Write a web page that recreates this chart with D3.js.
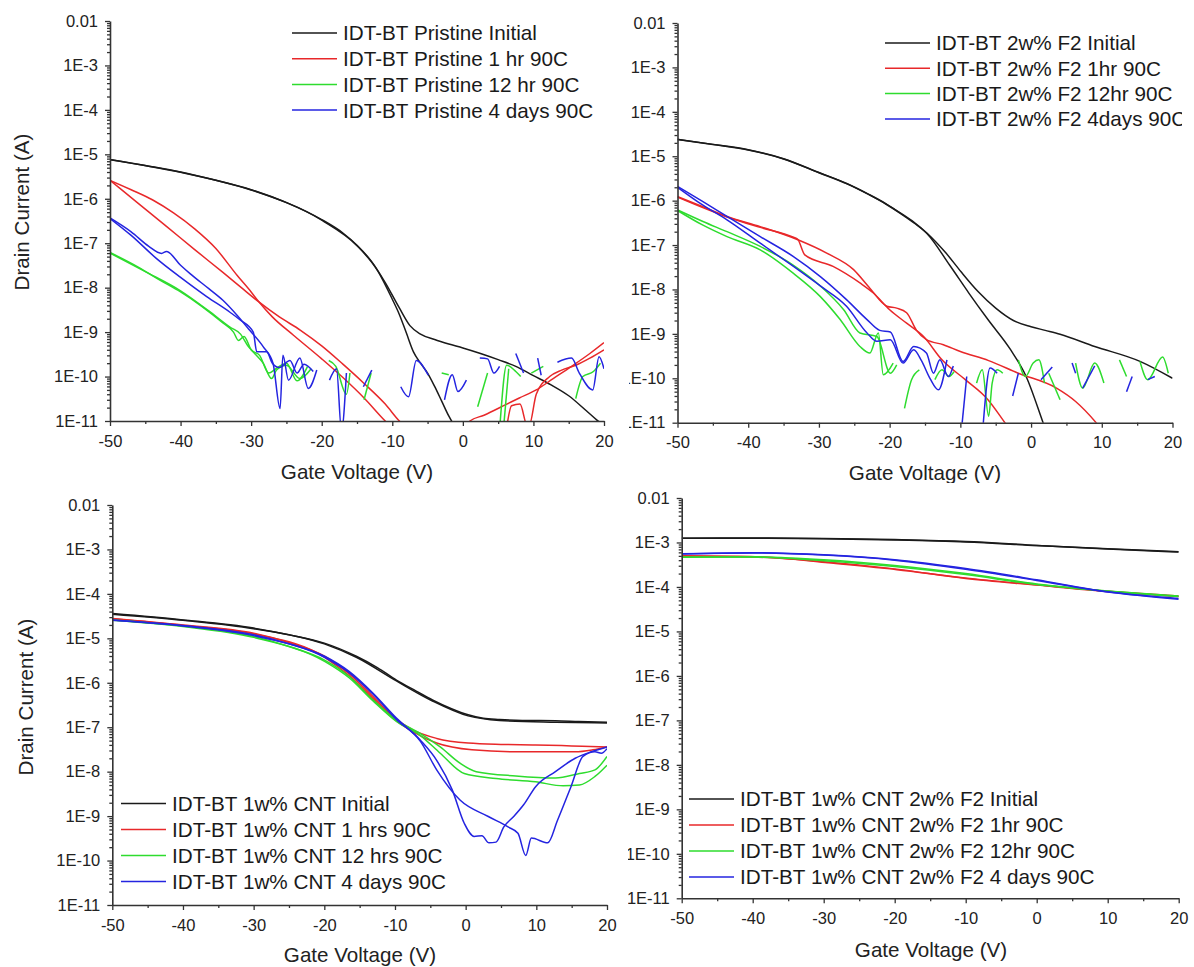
<!DOCTYPE html>
<html lang="en">
<head>
<meta charset="utf-8">
<title>IDT-BT transfer curves</title>
<script src="https://cdn.jsdelivr.net/npm/d3@7"></script>
<style>
  body { margin: 0; background: #fff; }
  svg { display: block; font-family: "Liberation Sans", Arial, sans-serif; }
  .axis text { font-size: 16.5px; fill: #222; font-family: "Liberation Sans", Arial, sans-serif; }
  .axis path, .axis line { stroke: #333; }
  .axis path { stroke-width: 1.6; }
  .axis line { stroke-width: 1.3; }
  .axis-title { font-size: 20.6px; fill: #222; }
  .legend text { font-size: 20.7px; fill: #1a1a1a; }
  .curve { fill: none; stroke-width: 1.5; stroke-linejoin: round; }
</style>
</head>
<body>
<svg id="chart" width="1194" height="967"></svg>
<script>
// axis ticks shared by all four panels
var X_TICKS = [-50, -40, -30, -20, -10, 0, 10, 20];
var X_MINOR = [-45, -35, -25, -15, -5, 5, 15];
var Y_TICKS = [1e-11, 1e-10, 1e-9, 1e-8, 1e-7, 1e-6, 1e-5, 1e-4, 1e-3, 1e-2];
var COLORS = ["#1a1a1a", "#e8282a", "#2edc2e", "#2424e0"];

// ---- top left: pristine film (each series = list of sweep segments, [Vg, Id])
var legend1 = ["IDT-BT Pristine Initial", "IDT-BT Pristine 1 hr 90C", "IDT-BT Pristine 12 hr 90C", "IDT-BT Pristine 4 days 90C"];
var pristineInitial = [
  [[-50,7.7e-6],[-45,5.6e-6],[-40,4.0e-6],[-35,2.6e-6],[-30,1.6e-6],[-25,8.2e-7],[-20,3.4e-7],[-17,1.7e-7],[-15,9e-8],[-13,4e-8],[-11,1.3e-8],[-9,3.5e-9],[-7.5,1.4e-9],[-6,9e-10],[-4,6.8e-10],[-2,5.4e-10],[0,4.4e-10],[2.5,3.3e-10],[5,2.4e-10],[7.5,1.7e-10],[10,1.05e-10],[12.5,6.5e-11],[15,3.7e-11],[17.5,1.7e-11],[19,1.05e-11],[20,8e-12]],
  [[-50,7.6e-6],[-40,3.95e-6],[-30,1.58e-6],[-20,3.3e-7],[-15,8.8e-8],[-12,2.3e-8],[-10,5.5e-9],[-9,2.5e-9],[-8,9.5e-10],[-7,3.6e-10],[-6,2e-10],[-5,1.2e-10],[-4,6e-11],[-3,2.8e-11],[-2,1.3e-11],[-1,7e-12]]
];
var pristine1h = [
  [[-50,2.6e-6],[-47,1.6e-6],[-44,9.5e-7],[-41,4.8e-7],[-38,2.1e-7],[-35,7.6e-8],[-32,1.9e-8],[-30,8e-9],[-29,5e-9],[-27,2.2e-9],[-24,8.5e-10],[-20,2.5e-10],[-17,9.5e-11],[-14,3.3e-11],[-11,1e-11],[-10,7e-12]],
  [[-50,2.6e-6],[-46,7.9e-7],[-42,2.4e-7],[-38,7.2e-8],[-34,2.2e-8],[-31,8.9e-9],[-29,4.9e-9],[-26,2.2e-9],[-23,1.1e-9],[-20,4.9e-10],[-17,1.9e-10],[-14,7e-11],[-11,2.4e-11],[-9,1e-11],[-8,7e-12]],
  [[0.5,8e-12],[1,1e-11],[3,1.35e-11],[6,2.3e-11],[8,3.3e-11],[10.4,5e-11],[12.8,9e-11],[15.4,1.7e-10],[18,3.3e-10],[20,5.8e-10]],
  [[6.2,7e-12],[6.9,2.2e-11],[8.1,2.4e-11],[9.1,8e-12],[9.4,8e-12],[10.4,4e-11],[12.3,1e-10],[14,1.4e-10],[16,1.8e-10],[18,2.6e-10],[20,4e-10]]
];
var pristine12h = [
  [[-50,6.2e-8],[-46,2.9e-8],[-43,1.5e-8],[-40,8e-9],[-37,3.8e-9],[-34,1.6e-9],[-32.5,1e-9],[-31.8,6.5e-10],[-31,8e-10],[-30,4e-10],[-28.8,3e-10],[-27.5,1.2e-10],[-26.5,1.5e-10],[-25,2e-10],[-23.5,8e-11],[-22,1.7e-10]],
  [[-50,6e-8],[-45,2.3e-8],[-40,8.5e-9],[-36,3e-9],[-33,1.3e-9],[-31.5,9e-10],[-30.5,5e-10],[-29.5,3.3e-10],[-28.3,2e-10],[-27.1,9e-11],[-26.4,1.4e-10],[-25,1.8e-10],[-23.1,9e-11],[-21.5,1.5e-10]],
  [[-19,2.3e-10],[-18,1.7e-10],[-16.5,4e-11],[-16,1.2e-10]],
  [[-14,3e-11],[-13,1.2e-10]],
  [[-3,1.2e-10],[-2,1.1e-10]],
  [[2.1,2.1e-11],[3.5,1.2e-10]],
  [[5.3,1e-11],[6.2,1.8e-10],[7.5,1.3e-10],[8.2,1e-10]],
  [[5.8,8e-12],[6.5,1.5e-10]],
  [[9.7,1.2e-10],[11.4,1.7e-10]],
  [[16,3.2e-11],[17,1e-10],[18.5,1.3e-10],[19.5,2e-10]]
];
var pristine4d = [
  [[-50,3.7e-7],[-47,1.8e-7],[-44.5,8.5e-8],[-42.7,5.9e-8],[-42,6.5e-8],[-40,3.2e-8],[-38.7,2.1e-8],[-36,9.5e-9],[-34,5.2e-9],[-32,2.4e-9],[-30.2,1.1e-9],[-28.3,4.7e-10],[-26.9,2e-10],[-25.9,1.9e-11],[-25.5,3e-10],[-24.7,8.3e-11],[-23.1,2.6e-10],[-21.9,5.4e-11],[-20.7,1.4e-10]],
  [[-50,3.6e-7],[-47,1.5e-7],[-43.4,4.5e-8],[-40,1.7e-8],[-36.3,6.3e-9],[-33,2.8e-9],[-31.6,1.9e-9],[-29.7,1e-9],[-29.2,3.6e-10],[-27.8,3.6e-10],[-27,2e-10],[-26,1.6e-10],[-24.5,2.3e-10],[-23.5,1.2e-10],[-22.5,1.9e-10],[-21.2,1.3e-10]],
  [[-18.9,8.3e-11],[-17.9,1.5e-10],[-17.2,6e-12],[-16.5,1.2e-10]],
  [[-14.1,5.9e-11],[-12.9,1.4e-10]],
  [[-8.8,5.9e-11],[-7.7,3.5e-11],[-6.6,2.3e-10],[-4.9,1.07e-10]],
  [[-2.6,3e-11],[-1.5,1.1e-10],[-0.7,4.6e-11],[0.5,8.3e-11]],
  [[2.4,2.6e-10],[3.5,2.5e-10],[4.4,1.2e-10],[5.2,1.7e-10]],
  [[7.5,3.3e-10],[8.6,1.2e-10]],
  [[10.6,2.6e-10],[11.1,1.07e-10]],
  [[13.4,2.1e-10],[15.4,2.6e-10],[16.5,1.2e-10],[18.4,5e-11],[19.3,2.8e-10],[20,1.5e-10]]
];

// ---- top right: 2 wt% F2
var legend2 = ["IDT-BT 2w% F2 Initial", "IDT-BT 2w% F2 1hr 90C", "IDT-BT 2w% F2 12hr 90C", "IDT-BT 2w% F2 4days 90C"];
var f2Initial = [
  [[-50,2.4e-5],[-45,1.85e-5],[-40,1.4e-5],[-35,8.8e-6],[-30,4.3e-6],[-26,2.4e-6],[-23,1.4e-6],[-20.5,8.5e-7],[-18.5,5.3e-7],[-16.5,3.2e-7],[-14.7,1.85e-7],[-12,6.5e-8],[-9.9,2.5e-8],[-7.5,9e-9],[-5,3.8e-9],[-2.5,2e-9],[0,1.45e-9],[2,1.2e-9],[4.1,9.8e-10],[9,5.2e-10],[15.4,2.4e-10],[20,1e-10]],
  [[-50,2.38e-5],[-45,1.84e-5],[-40,1.38e-5],[-35,8.7e-6],[-30,4.25e-6],[-26,2.38e-6],[-23,1.38e-6],[-20.5,8.3e-7],[-18.5,5.2e-7],[-16.5,3.1e-7],[-14.7,1.8e-7],[-11.5,3.5e-8],[-8.8,8.3e-9],[-6.1,2.1e-9],[-2.9,4.4e-10],[-0.7,1.1e-10],[1.7,1e-11],[2.2,6e-12]]
];
var f2_1h = [
  [[-50,1.23e-6],[-46.5,7.4e-7],[-43,4.4e-7],[-38.3,2.6e-7],[-32.9,1.3e-7],[-28.9,6.6e-8],[-25.1,2.8e-8],[-22.8,1.07e-8],[-20.4,4.2e-9],[-19,3.8e-9],[-17.6,3e-9],[-16.2,1.2e-9],[-14.8,7.4e-10],[-12.4,5.7e-10],[-10,4e-10],[-6,2.5e-10],[-1.8,1.3e-10],[3.6,6e-11],[6.3,3e-11],[9.2,1e-11],[10,7e-12]],
  [[-50,1.2e-6],[-43,4.3e-7],[-38.3,2.5e-7],[-33.6,1.5e-7],[-33,1.35e-7],[-32,6e-8],[-28,3.3e-8],[-24.2,1.4e-8],[-22.3,8.3e-9],[-20,3.5e-9],[-17.6,1.74e-9],[-15.2,8.7e-10],[-12.6,2.6e-10],[-9.3,9.3e-11],[-6.1,3.3e-11],[-3.7,1e-11],[-3,7e-12]]
];
var f2_12h = [
  [[-50,6.2e-7],[-46.4,3.4e-7],[-43,2e-7],[-38.3,9.3e-8],[-33.6,3.5e-8],[-29.8,1.2e-8],[-26.5,3.5e-9],[-24.2,1.05e-9],[-21.8,8.7e-10],[-19.9,1.3e-10],[-19,2e-10]],
  [[-50,6e-7],[-46.4,2.8e-7],[-43,1.55e-7],[-38.3,7.8e-8],[-33.6,2.3e-8],[-29.8,6.9e-9],[-27,2.1e-9],[-24.2,5.2e-10],[-22.8,3.7e-10],[-21.6,1.05e-9],[-20.9,1.2e-10],[-19.5,2.2e-10]],
  [[-17.9,2.1e-11],[-16.9,9.3e-11],[-15.8,1.55e-10]],
  [[-13.6,9.3e-11],[-12.6,1.55e-10],[-11.6,1.1e-10],[-10.9,1.4e-10]],
  [[-7.7,7.8e-11],[-6.9,1.55e-10],[-6.0,1.4e-11],[-5.5,7.8e-11],[-4.8,1.55e-10],[-4.0,1.3e-10]],
  [[-1.8,2.6e-10],[-0.8,1.1e-10],[0.3,2.2e-10],[1.1,2.6e-10],[1.9,7.8e-11]],
  [[2.5,1.3e-10],[4.1,3.3e-11]],
  [[6.3,2.2e-10],[7.3,6e-11],[9.0,2.2e-10],[10.3,7.8e-11]],
  [[12.5,2.6e-10],[13.5,1.1e-10]],
  [[15.4,2.4e-10],[16.5,9.3e-11],[18.6,3e-10],[19.4,1.3e-10]]
];
var f2_4d = [
  [[-50,2.1e-6],[-46.4,9.5e-7],[-43,4.4e-7],[-38.3,1.55e-7],[-33.6,5.5e-8],[-29.8,1.95e-8],[-26.1,5.9e-9],[-23.2,2.1e-9],[-21.4,1.2e-9],[-19.9,1.1e-9],[-18.1,2.4e-10],[-16.6,5.2e-10],[-14.8,3.7e-10],[-13.8,1.3e-10],[-12.9,2.6e-10],[-11.7,1.1e-10],[-11,1.9e-10]],
  [[-50,2e-6],[-46.4,7.9e-7],[-43,3.7e-7],[-38.3,1.1e-7],[-33.6,3.3e-8],[-29.8,1.2e-8],[-26.1,4.2e-9],[-23.2,1.05e-9],[-21.8,6.8e-10],[-19.9,7.4e-10],[-18.1,2.2e-10],[-16.6,4.4e-10],[-15.5,2.5e-10],[-14.3,1e-10],[-13.1,5.5e-11],[-11.9,2.6e-10]],
  [[-9.8,8e-12],[-9.1,1.1e-10]],
  [[-6.8,8e-12],[-5.8,1.7e-10],[-4.8,1.3e-10]],
  [[-2.6,4e-11],[-1.8,1.3e-10]],
  [[1.4,9.3e-11],[3.0,1.8e-10]],
  [[5.8,2.2e-10],[6.3,1.3e-10]],
  [[7.3,6e-11],[9.0,1.9e-10]],
  [[13.5,5e-11],[14.3,1.1e-10]],
  [[16.5,9.3e-11],[17.5,1.1e-10]]
];

// ---- bottom left: 1 wt% CNT
var legend3 = ["IDT-BT 1w% CNT Initial", "IDT-BT 1w% CNT 1 hrs 90C", "IDT-BT 1w% CNT 12 hrs 90C", "IDT-BT 1w% CNT 4 days 90C"];
var cntInitial = [
  [[-50,3.6e-5],[-40,2.6e-5],[-30,1.7e-5],[-25,1.2e-5],[-20,7.8e-6],[-15.4,3.9e-6],[-12.5,2.2e-6],[-9.8,1.15e-6],[-7,6.5e-7],[-4.7,4.1e-7],[-2,2.6e-7],[0.35,1.9e-7],[2.5,1.6e-7],[4.8,1.5e-7],[8,1.42e-7],[12.7,1.4e-7],[16,1.35e-7],[20,1.3e-7]],
  [[-50,3.5e-5],[-40,2.55e-5],[-30,1.65e-5],[-20,7.5e-6],[-15.4,3.7e-6],[-9.8,1.1e-6],[-4.7,3.9e-7],[0.35,1.8e-7],[4.8,1.42e-7],[12.7,1.3e-7],[20,1.25e-7]]
];
var cnt1h = [
  [[-50,2.8e-5],[-40,2e-5],[-30,1.3e-5],[-25,8e-6],[-19.9,3.9e-6],[-16.5,1.6e-6],[-13.1,4.9e-7],[-10.3,1.75e-7],[-7.5,8.7e-8],[-4.1,5.6e-8],[0.35,4.4e-8],[5,4.1e-8],[9.9,4e-8],[15,3.8e-8],[20,3.6e-8]],
  [[-50,2.75e-5],[-40,1.95e-5],[-30,1.25e-5],[-19.9,3.7e-6],[-16.5,1.45e-6],[-13.1,4.4e-7],[-10.3,1.6e-7],[-7.5,8e-8],[-4.1,4.4e-8],[0.9,3.1e-8],[7.1,2.8e-8],[15.5,2.8e-8],[18,3.1e-8],[20,3.6e-8]]
];
var cnt12h = [
  [[-50,2.6e-5],[-40,1.9e-5],[-30,1.1e-5],[-25,6.5e-6],[-19.9,3.2e-6],[-16.5,1.4e-6],[-13.1,4.1e-7],[-9.8,1.45e-7],[-6.4,7.2e-8],[-3.6,3.6e-8],[-0.8,1.55e-8],[1.5,1e-8],[7.1,8e-9],[12.7,7.2e-9],[16.1,9.1e-9],[18.3,1.1e-8],[20,2.2e-8]],
  [[-50,2.55e-5],[-40,1.85e-5],[-30,1.05e-5],[-19.9,3e-6],[-16.5,1.3e-6],[-13.1,3.9e-7],[-9.8,1.35e-7],[-6.4,6.5e-8],[-3.6,2.6e-8],[-0.2,9.1e-9],[4.3,7e-9],[9.9,5.9e-9],[13.8,4.8e-9],[16.1,5e-9],[18.3,7.8e-9],[20,1.4e-8]]
];
var cnt4d = [
  [[-50,2.6e-5],[-40,1.95e-5],[-30,1.2e-5],[-25,7.5e-6],[-19.9,3.9e-6],[-16.5,1.8e-6],[-13.1,5.8e-7],[-9.8,1.6e-7],[-6.4,5.1e-8],[-4.1,1.8e-8],[-1.9,3.9e-9],[-0.2,6.9e-10],[1.2,3.5e-10],[2.3,3.6e-10],[3.3,2.5e-10],[4.3,2.6e-10],[5.4,5.7e-10],[6.8,9.8e-10],[8.2,1.8e-9],[9.9,4.6e-9],[12.7,1e-8],[15.5,2e-8],[17.8,2.8e-8],[20,3.6e-8]],
  [[-50,2.55e-5],[-40,1.9e-5],[-30,1.15e-5],[-19.9,3.7e-6],[-16.5,1.7e-6],[-13.1,5.5e-7],[-9.8,1.5e-7],[-6.4,4.8e-8],[-4.1,1.1e-8],[-0.8,2.3e-9],[3.2,9.8e-10],[6,5.7e-10],[7.4,4.1e-10],[8.5,1.3e-10],[9.3,3.2e-10],[11.6,2.5e-10],[13,8.1e-10],[14.9,4.6e-9],[16.6,2.2e-8],[18.3,2.8e-8],[19.2,2.6e-8],[20,3.3e-8]]
];

// ---- bottom right: 1 wt% CNT + 2 wt% F2
var legend4 = ["IDT-BT 1w% CNT 2w% F2 Initial", "IDT-BT 1w% CNT 2w% F2 1hr 90C", "IDT-BT 1w% CNT 2w% F2 12hr 90C", "IDT-BT 1w% CNT 2w% F2 4 days 90C"];
var cntF2Initial = [
  [[-50,1.25e-3],[-40,1.26e-3],[-30,1.23e-3],[-20,1.16e-3],[-10,1.05e-3],[0,8.6e-4],[10,7.2e-4],[20,6.2e-4]],
  [[-50,1.24e-3],[-40,1.24e-3],[-30,1.21e-3],[-20,1.14e-3],[-10,1.03e-3],[0,8.5e-4],[10,7.1e-4],[20,6.1e-4]]
];
var cntF2_1h = [
  [[-50,5e-4],[-42,4.9e-4],[-35.8,4.4e-4],[-29.4,3.5e-4],[-19.7,2.45e-4],[-10.1,1.6e-4],[0,1.12e-4],[10.2,8e-5],[20,6.3e-5]],
  [[-50,4.9e-4],[-40,4.7e-4],[-30,3.7e-4],[-20,2.55e-4],[-10,1.55e-4],[0,1.1e-4],[10,7.9e-5],[20,6.1e-5]]
];
var cntF2_12h = [
  [[-50,4.7e-4],[-40,4.75e-4],[-30,4.1e-4],[-20,3.05e-4],[-10,2e-4],[0,1.17e-4],[10,8.1e-5],[20,6.3e-5]],
  [[-50,4.65e-4],[-40,4.7e-4],[-30,3.9e-4],[-20,2.9e-4],[-10,1.9e-4],[0,1.13e-4],[10,8e-5],[20,6.1e-5]]
];
var cntF2_4d = [
  [[-50,5.5e-4],[-40,5.9e-4],[-30,5.3e-4],[-20,4.1e-4],[-10,2.6e-4],[0,1.45e-4],[10,7.8e-5],[20,5.5e-5]],
  [[-50,5.6e-4],[-40,5.8e-4],[-30,5.2e-4],[-20,4e-4],[-10,2.5e-4],[0,1.4e-4],[10,7.7e-5],[20,5.3e-5]]
];

// layout of the four panels (pixel boxes of the plot areas)
var panels = [
  { box: [110, 604, 21, 421], series: [pristineInitial, pristine1h, pristine12h, pristine4d], names: legend1,
    legend: [292, 33, 25.7], xTitle: [357, 479], yTitle: [29, 212], clip: null },
  { box: [677.5, 1172.5, 23, 422.7], series: [f2Initial, f2_1h, f2_12h, f2_4d], names: legend2,
    legend: [885, 43, 25.3], xTitle: [925, 480], yTitle: null, clip: [629, 0, 553, 483] },
  { box: [112.3, 607, 505, 905], series: [cntInitial, cnt1h, cnt12h, cnt4d], names: legend3,
    legend: [121, 803.5, 26], xTitle: [360, 962], yTitle: [33, 697], clip: null },
  { box: [681.7, 1178.7, 498, 898.3], series: [cntF2Initial, cntF2_1h, cntF2_12h, cntF2_4d], names: legend4,
    legend: [689, 799, 26], xTitle: [931, 957], yTitle: null, clip: [628, 483, 566, 484] }
];

var svg = d3.select("#chart");
var defs = svg.append("defs");

var yMinor = [];
Y_TICKS.slice(0, -1).forEach(function(d) {
  for (var k = 2; k <= 9; k++) yMinor.push(d * k);
});

function yLabel(d) {
  if (d === 1e-2) return "0.01";
  return "1E" + Math.round(Math.log10(d));
}

panels.forEach(function(p, i) {
  var x = d3.scaleLinear().domain([-50, 20]).range([p.box[0], p.box[1]]);
  var y = d3.scaleLog().domain([1e-11, 1e-2]).range([p.box[3], p.box[2]]);

  var g = svg.append("g");
  if (p.clip) {
    defs.append("clipPath").attr("id", "panel" + i)
      .append("rect").attr("x", p.clip[0]).attr("y", p.clip[1])
      .attr("width", p.clip[2]).attr("height", p.clip[3]);
    g.attr("clip-path", "url(#panel" + i + ")");
  }
  defs.append("clipPath").attr("id", "plot" + i)
    .append("rect").attr("x", p.box[0]).attr("y", p.box[2])
    .attr("width", p.box[1] - p.box[0]).attr("height", p.box[3] - p.box[2]);

  // curves
  var line = d3.line()
    .x(function(d) { return x(d[0]); })
    .y(function(d) { return y(d[1]); })
    .curve(d3.curveMonotoneX);

  var plot = g.append("g").attr("clip-path", "url(#plot" + i + ")");
  p.series.forEach(function(segs, s) {
    plot.selectAll(null).data(segs).enter().append("path")
      .attr("class", "curve")
      .attr("stroke", COLORS[s])
      .attr("d", line);
  });

  // axes
  g.append("g").attr("class", "axis")
    .attr("transform", "translate(0," + p.box[3] + ")")
    .call(d3.axisBottom(x).tickValues(X_TICKS).tickSize(5).tickSizeOuter(0).tickPadding(9)
      .tickFormat(function(d) { return String(d); }));
  g.append("g").attr("class", "axis")
    .attr("transform", "translate(0," + p.box[3] + ")")
    .call(d3.axisBottom(x).tickValues(X_MINOR).tickSize(3).tickFormat(""))
    .select(".domain").remove();

  g.append("g").attr("class", "axis")
    .attr("transform", "translate(" + p.box[0] + ",0)")
    .call(d3.axisLeft(y).tickValues(Y_TICKS).tickSize(5).tickSizeOuter(0).tickPadding(7).tickFormat(yLabel));
  g.append("g").attr("class", "axis")
    .attr("transform", "translate(" + p.box[0] + ",0)")
    .call(d3.axisLeft(y).tickValues(yMinor).tickSize(3).tickFormat(""))
    .select(".domain").remove();

  g.selectAll(".axis").attr("font-size", null).attr("font-family", null);

  // titles
  g.append("text").attr("class", "axis-title")
    .attr("x", p.xTitle[0]).attr("y", p.xTitle[1])
    .attr("text-anchor", "middle")
    .text("Gate Voltage (V)");
  if (p.yTitle) {
    g.append("text").attr("class", "axis-title")
      .attr("transform", "translate(" + p.yTitle[0] + "," + p.yTitle[1] + ") rotate(-90)")
      .attr("text-anchor", "middle")
      .text("Drain Current (A)");
  }

  // legend
  var lg = g.append("g").attr("class", "legend");
  var rows = lg.selectAll("g").data(p.names).enter().append("g")
    .attr("transform", function(d, k) {
      return "translate(" + p.legend[0] + "," + (p.legend[1] + k * p.legend[2]) + ")";
    });
  rows.append("line")
    .attr("x1", 0).attr("x2", 45).attr("y1", 0).attr("y2", 0)
    .attr("stroke", function(d, k) { return COLORS[k]; })
    .attr("stroke-width", 1.5);
  rows.append("text")
    .attr("x", 51).attr("y", 0).attr("dy", "0.36em")
    .text(function(d) { return d; });
});
</script>
</body>
</html>
